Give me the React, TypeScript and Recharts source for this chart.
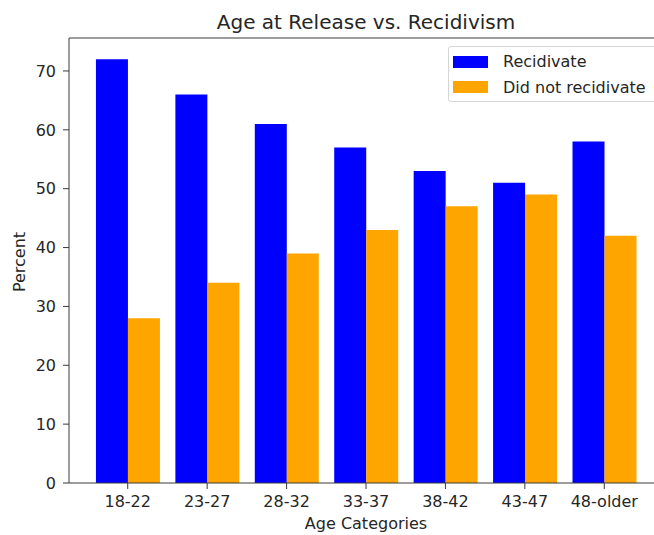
import {
  BarChart,
  Bar,
  XAxis,
  YAxis,
  ReferenceLine
} from "recharts";

const categories = ["18-22", "23-27", "28-32", "33-37", "38-42", "43-47", "48-older"];
const recidivate = [72, 66, 61, 57, 53, 51, 58];
const notRecidivate = [28, 34, 39, 43, 47, 49, 42];
const yTicks = [0, 10, 20, 30, 40, 50, 60, 70];

const data = categories.map((c, i) => ({
  age: c,
  recidivate: recidivate[i],
  notRecidivate: notRecidivate[i]
}));

const FONT = "'DejaVu Sans', sans-serif";
const TEXT = "#262626";
const AXIS = "#3a3a3a";

function LegendBox() {
  const row = (color: string, label: string) => (
    <div style={{ display: "flex", alignItems: "center", height: 25.5 }}>
      <div style={{ width: 35, height: 12, background: color, marginRight: 15 }} />
      <span>{label}</span>
    </div>
  );
  return (
    <div
      style={{
        position: "absolute",
        left: 448,
        top: 46,
        width: 215,
        height: 56,
        border: "1px solid #d5d5d5",
        borderRadius: 3,
        background: "white",
        padding: "2px 0 0 4px",
        fontFamily: FONT,
        fontSize: 16,
        color: TEXT,
        boxSizing: "border-box"
      }}
    >
      {row("#0000ff", "Recidivate")}
      {row("#ffa500", "Did not recidivate")}
    </div>
  );
}

export default function App() {
  return (
    <div
      style={{
        position: "absolute",
        left: 0,
        top: 0,
        width: 654,
        height: 535,
        overflow: "hidden",
        background: "white",
        fontFamily: FONT
      }}
    >
      <div
        style={{
          position: "absolute",
          top: 10,
          left: 69,
          width: 594,
          textAlign: "center",
          fontSize: 20,
          color: TEXT
        }}
      >
        Age at Release vs. Recidivism
      </div>
      <div
        style={{
          position: "absolute",
          top: 514,
          left: 69,
          width: 594,
          textAlign: "center",
          fontSize: 16,
          color: TEXT
        }}
      >
        Age Categories
      </div>
      <div
        style={{
          position: "absolute",
          left: 19,
          top: 262,
          transform: "translate(-50%, -50%) rotate(-90deg)",
          fontSize: 16,
          color: TEXT,
          whiteSpace: "nowrap"
        }}
      >
        Percent
      </div>

      <BarChart
        width={680}
        height={535}
        data={data}
        margin={{ top: 38, right: 17, left: 0, bottom: 0 }}
        barCategoryGap="10%"
        barGap={0}
        style={{ position: "absolute", left: 0, top: 0 }}
      >
        <XAxis
          dataKey="age"
          height={52}
          padding={{ left: 19, right: 19 }}
          tickSize={6}
          tickMargin={7}
          stroke={AXIS}
          tick={{ fill: TEXT, fontSize: 16, fontFamily: FONT }}
          tickLine={{ stroke: AXIS }}
          interval={0}
        />
        <YAxis
          width={69}
          domain={[0, 75.6]}
          ticks={yTicks}
          tickSize={6}
          tickMargin={7}
          stroke={AXIS}
          tick={{ fill: TEXT, fontSize: 16, fontFamily: FONT }}
          tickLine={{ stroke: AXIS }}
          allowDataOverflow
        />
        <ReferenceLine y={75.6} stroke={AXIS} ifOverflow="extendDomain" />
        <Bar dataKey="recidivate" name="Recidivate" fill="#0000ff" isAnimationActive={false} />
        <Bar dataKey="notRecidivate" name="Did not recidivate" fill="#ffa500" isAnimationActive={false} />
      </BarChart>
      <LegendBox />
    </div>
  );
}
